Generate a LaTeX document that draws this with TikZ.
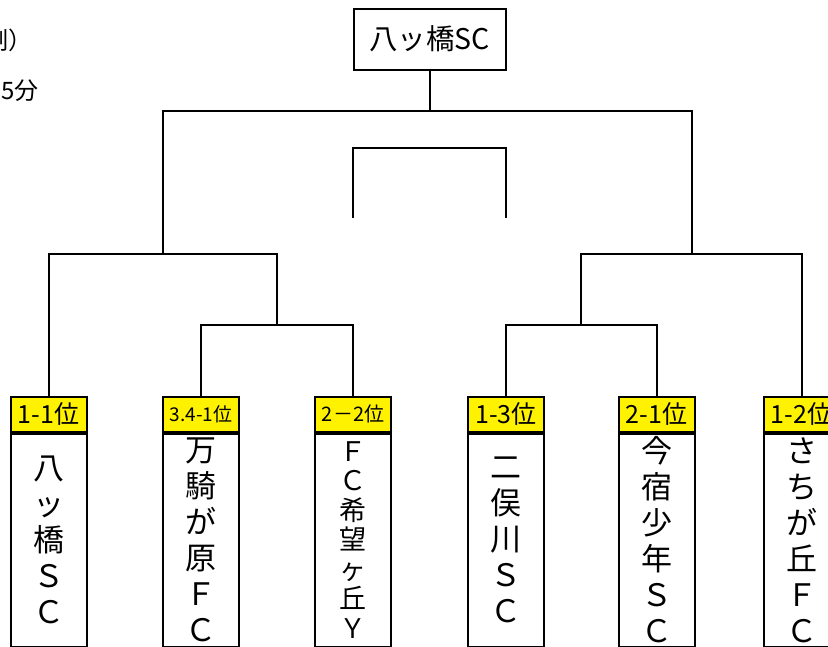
\documentclass[tikz,border=0pt]{standalone}
\usepackage{fontspec}
\setmainfont{Noto Sans CJK JP}
\begin{document}
\begin{tikzpicture}[x=1pt,y=-1pt,
  conn/.style={line width=2pt,line cap=rect},
  hdr/.style={draw,line width=2pt,fill=yellow,minimum width=76pt,minimum height=35pt,inner sep=0pt,font=\fontsize{25}{27}\selectfont},
  body/.style={draw,line width=2pt,fill=white,minimum width=76pt,minimum height=213pt,inner sep=0pt,align=center,anchor=north,font=\fontsize{31}{36}\selectfont},
  bodysmall/.style={body,font=\fontsize{27}{29.5}\selectfont},
  topbox/.style={draw,line width=2pt,minimum width=152pt,minimum height=61pt,inner sep=0pt,font=\fontsize{28.5}{30}\selectfont},
  side/.style={inner sep=0pt,font=\fontsize{24}{26}\selectfont}
]
\useasboundingbox (0,0) rectangle (828,646);
\clip (0,0) rectangle (828,646);

% side texts (partly cut off)
\node[side,anchor=west] (s1) at (-16,40) {制）};
\node[side,anchor=east] (s2) at (39,91) {5分};

% champion box
\node[topbox] (top) at (429.5,39) {八ッ橋SC};

% team boxes
\node[hdr] (h1) at (48.5,414) {1-1位};
\node[hdr] (h2) at (201,414) {\fontsize{19}{21}\selectfont 3.4-1位};
\node[hdr] (h3) at (353,414) {\fontsize{20}{22}\selectfont 2－2位};
\node[hdr] (h4) at (506,414) {1-3位};
\node[hdr] (h5) at (656.5,414) {2-1位};
\node[hdr] (h6) at (801.5,414) {1-2位};

\node[body] (b1) at (h1.south) {八\\ッ\\橋\\Ｓ\\Ｃ};
\node[body] (b2) at (h2.south) {万\\騎\\が\\原\\Ｆ\\Ｃ};
\node[bodysmall] (b3) at (h3.south) {Ｆ\\Ｃ\\希\\望\\ヶ\\丘\\Ｙ};
\node[body] (b4) at (h4.south) {二\\俣\\川\\Ｓ\\Ｃ};
\node[body] (b5) at (h5.south) {今\\宿\\少\\年\\Ｓ\\Ｃ};
\node[body] (b6) at (h6.south) {さ\\ち\\が\\丘\\Ｆ\\Ｃ};

% junction coordinates
\coordinate (q1) at (277,325);
\coordinate (q2) at (581,325);
\coordinate (m1) at (163,254);
\coordinate (m2) at (691.5,254);
\coordinate (f) at (429.5,111);

% bracket connectors
\draw[conn] (h2.north) |- (q1) -| (h3.north);
\draw[conn] (h4.north) |- (q2) -| (h5.north);
\draw[conn] (h1.north) |- (m1) -| (q1);
\draw[conn] (q2) |- (m2) -| (h6.north);
\draw[conn] (m1) |- (f) -| (m2);
\draw[conn] (top.south) -- (f);

% third place bracket
\coordinate (t1) at (353,218);
\coordinate (t2) at (353,148);
\coordinate (t3) at (506,148);
\coordinate (t4) at (506,218);
\draw[line width=2pt] (t1) -- (t2) -- (t3) -- (t4);
\end{tikzpicture}
\end{document}
